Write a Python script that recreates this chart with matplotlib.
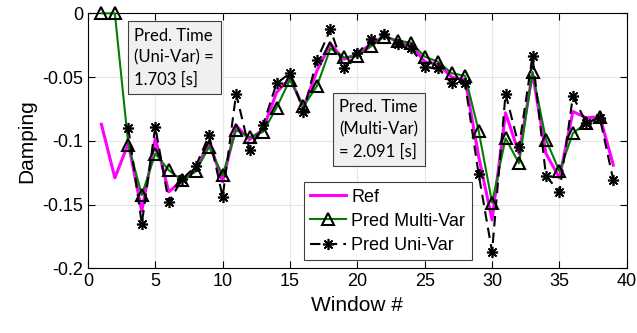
import numpy as np
import matplotlib
matplotlib.use('Agg')
import matplotlib.pyplot as plt

plt.rcParams['font.family'] = ['Liberation Sans', 'DejaVu Sans']

win_ref = np.arange(1, 40)
ref = [-0.087, -0.129, -0.102, -0.155, -0.098, -0.140, -0.131, -0.123, -0.101, -0.132,
       -0.088, -0.099, -0.091, -0.062, -0.051, -0.074, -0.045, -0.024, -0.036, -0.032,
       -0.024, -0.018, -0.022, -0.025, -0.038, -0.040, -0.050, -0.052, -0.112, -0.162,
       -0.078, -0.110, -0.047, -0.110, -0.129, -0.077, -0.082, -0.081, -0.119]

win_multi = np.arange(1, 39)
multi = [0.0, 0.0, -0.103, -0.1425, -0.110, -0.123, -0.131, -0.124, -0.1046, -0.127,
         -0.0915, -0.097, -0.093, -0.074, -0.052, -0.073, -0.057, -0.0275, -0.0345, -0.0335,
         -0.026, -0.0183, -0.0215, -0.023, -0.034, -0.038, -0.047, -0.049, -0.092, -0.1485,
         -0.098, -0.1176, -0.046, -0.099, -0.124, -0.094, -0.086, -0.081]

win_uni = np.arange(3, 40)
uni = [-0.090, -0.165, -0.089, -0.148, -0.130, -0.120, -0.0955, -0.144, -0.063, -0.107,
       -0.0876, -0.055, -0.047, -0.077, -0.0366, -0.0126, -0.043, -0.0314, -0.0204, -0.0165,
       -0.0243, -0.0275, -0.042, -0.043, -0.055, -0.055, -0.126, -0.187, -0.063, -0.1046,
       -0.0335, -0.1276, -0.140, -0.065, -0.086, -0.082, -0.131]

fig = plt.figure(figsize=(6.37, 3.33), dpi=100)
ax = fig.add_axes([0.138, 0.194, 0.846, 0.766])

ax.plot(win_ref, ref, color='#ff00ff', lw=2.2, label='Ref', zorder=2)
ax.plot(win_multi, multi, color='#008000', lw=1.5, marker='^', ms=8,
        mfc='none', mec='black', mew=1.5, label='Pred Multi-Var', zorder=3, clip_on=False)
ax.plot(win_uni, uni, color='black', lw=1.5, ls=(0, (5, 3)), marker=(8, 2, 0), ms=8,
        mec='black', mew=1.2, label='Pred Uni-Var', zorder=4)

ax.set_xlim(0, 40)
ax.set_ylim(-0.2, 0)
ax.set_xticks(np.arange(0, 41, 5))
ax.set_yticks([0, -0.05, -0.1, -0.15, -0.2])
ax.set_yticklabels(['0', '-0.05', '-0.1', '-0.15', '-0.2'])
ax.tick_params(direction='in', labelsize=13, length=5, top=True, right=True,
               labeltop=False, labelright=False)
ax.grid(True, color='#e6e6e6', lw=0.8)
ax.set_axisbelow(True)
ax.set_xlabel('Window #', fontsize=15)
ax.set_ylabel('Damping', fontsize=15)

box = dict(boxstyle='square,pad=0.4', facecolor='#f0f0f0', edgecolor='#404040', lw=0.8)
ax.text(3.45, -0.0112, 'Pred. Time\n(Uni-Var) =\n1.703 [s]', fontsize=12,
        family=['Lato', 'DejaVu Sans'], va='top', ha='left', bbox=box, linespacing=1.45, zorder=6)
ax.text(18.65, -0.0675, 'Pred. Time\n(Multi-Var)\n= 2.091 [s]', fontsize=12,
        family=['Lato', 'DejaVu Sans'], va='top', ha='left', bbox=box, linespacing=1.45, zorder=6)

leg = ax.legend(loc='lower left', bbox_to_anchor=(0.385, 0.0), fontsize=13, fancybox=False,
                edgecolor='#404040', framealpha=1, handlelength=2.0, borderpad=0.35,
                labelspacing=0.4, handletextpad=0.3, borderaxespad=0.45)
leg.get_frame().set_linewidth(0.8)

fig.savefig('out.png', dpi=100)
